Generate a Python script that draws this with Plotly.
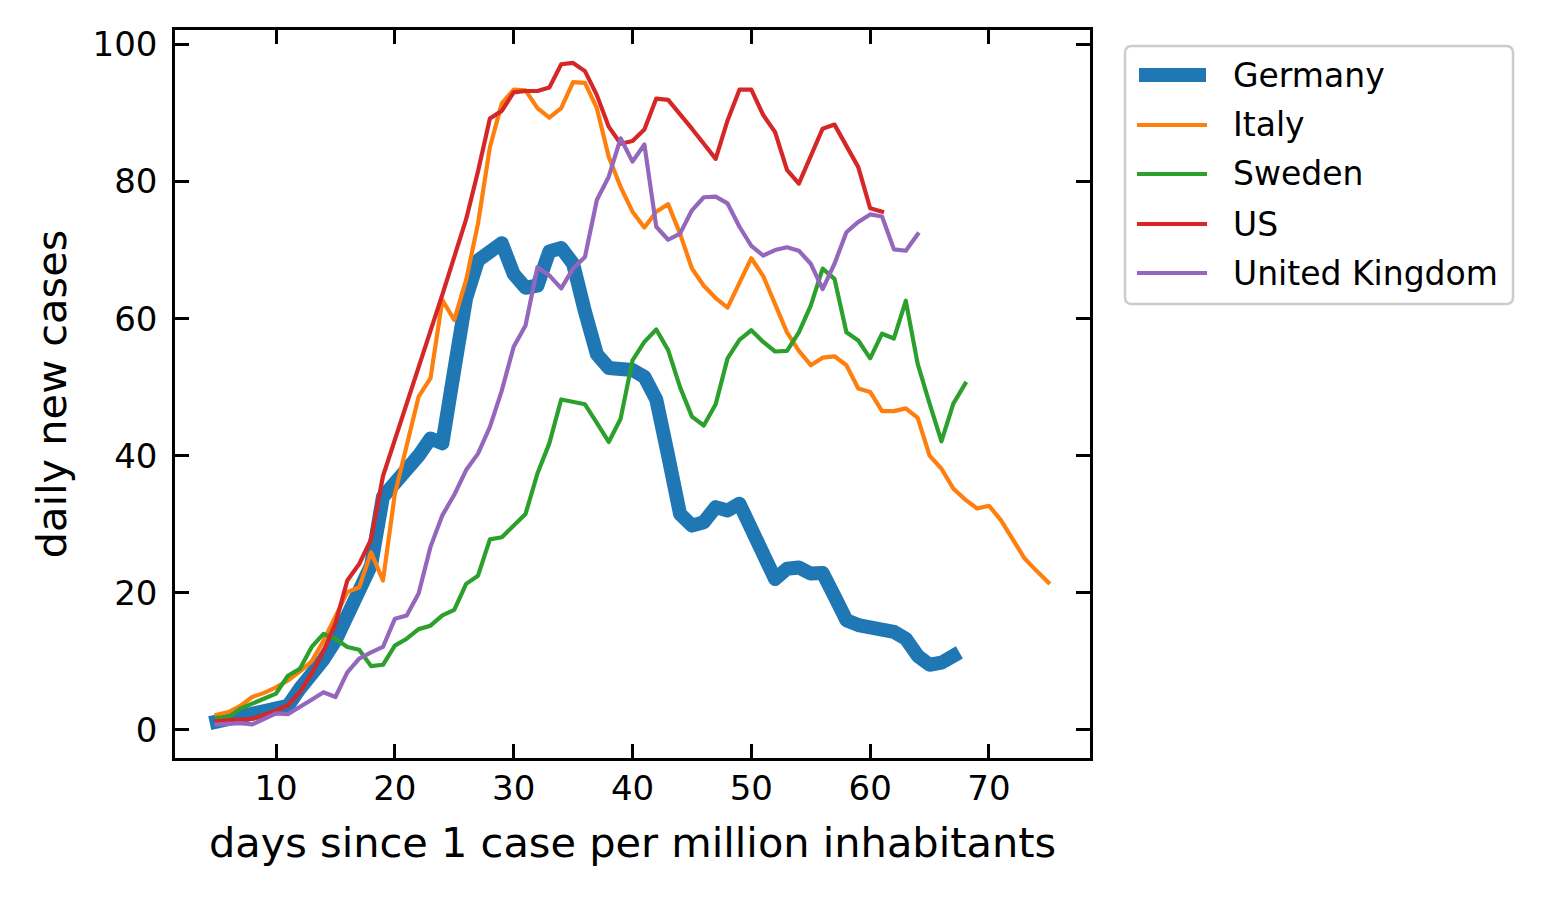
import plotly.graph_objects as go

# ---------------- data ----------------
countries = ["Germany", "Italy", "Sweden", "US", "United Kingdom"]
colors = ["#1f77b4", "#ff7f0e", "#2ca02c", "#d62728", "#9467bd"]

days_germany = list(range(5, 68))
germany = [1.2, 1.5, 1.8, 2.2, 2.5, 3.1, 3.5, 6.0, 8.0, 10.3,
           13.0, 16.5, 20.0, 24.0, 34.0, 36.0, 37.5, 40.0, 42.5, 41.8,
           52.5, 63.0, 68.5, 70.0, 71.0, 66.5, 64.5, 64.8, 69.8, 70.3,
           68.0, 61.0, 54.8, 52.8, 52.6, 52.5, 51.5, 48.2, 40.0, 31.5,
           29.8, 30.3, 32.5, 32.0, 33.0, 29.5, 25.3, 22.0, 23.5, 23.7,
           22.8, 22.9, 19.5, 16.0, 15.3, 15.1, 14.6, 14.3, 13.3, 10.8,
           9.5, 9.8, 10.8]

days_italy = list(range(5, 76))
italy = [2.2, 2.6, 3.5, 4.8, 5.4, 6.2, 7.2, 8.5, 10.0, 13.0,
         16.5, 20.1, 20.8, 25.9, 21.8, 34.4, 41.5, 48.6, 51.3, 62.7,
         59.8, 65.6, 73.9, 85.0, 91.4, 93.4, 93.3, 90.7, 89.3, 90.7,
         94.5, 94.4, 90.7, 83.6, 79.2, 75.6, 73.3, 75.6, 76.7, 72.4,
         67.3, 64.8, 63.0, 61.6, 65.2, 68.8, 66.2, 62.0, 58.0, 55.3,
         53.2, 54.3, 54.5, 53.2, 49.8, 49.3, 46.5, 46.5, 46.9, 45.5,
         40.0, 38.1, 35.2, 33.6, 32.3, 32.7, 30.6, 27.8, 25.0, 23.2,
         21.5]

days_sweden = list(range(5, 69))
sweden = [1.75, 1.85, 3.1, 3.8, 4.5, 5.3, 7.9, 8.9, 12.1, 14.0,
          13.3, 12.1, 11.7, 9.3, 9.5, 12.3, 13.3, 14.7, 15.2, 16.7,
          17.5, 21.3, 22.5, 27.8, 28.1, 29.8, 31.5, 37.4, 41.8, 48.2,
          47.8, 47.5, 44.8, 42.0, 45.4, 53.9, 56.6, 58.4, 55.4, 50.0,
          45.7, 44.4, 47.5, 54.2, 56.9, 58.3, 56.6, 55.2, 55.3, 58.0,
          61.9, 67.3, 65.8, 58.0, 56.8, 54.2, 57.8, 57.1, 62.6, 53.4,
          47.6, 42.1, 47.6, 50.5]

days_us = list(range(5, 62))
us = [1.3, 1.4, 1.5, 1.6, 2.2, 2.8, 3.6, 5.5, 8.2, 11.5,
      15.5, 21.8, 24.2, 27.8, 37.0, 42.2, 47.5, 52.8, 58.2, 63.5,
      68.8, 74.5, 81.5, 89.2, 90.3, 93.0, 93.2, 93.2, 93.7, 97.1,
      97.3, 96.1, 92.6, 88.0, 85.5, 85.9, 87.6, 92.1, 91.9, 89.9,
      87.7, 85.5, 83.3, 88.9, 93.4, 93.4, 89.7, 87.2, 81.7, 79.7,
      83.8, 87.7, 88.3, 85.3, 82.1, 76.1, 75.6]

days_uk = list(range(5, 65))
uk = [0.8, 0.9, 1.0, 0.8, 1.6, 2.4, 2.3, 3.3, 4.4, 5.5,
      4.8, 8.4, 10.4, 11.3, 12.1, 16.2, 16.7, 19.9, 26.7, 31.3,
      34.3, 37.9, 40.3, 44.2, 49.5, 55.9, 59.0, 67.5, 66.3, 64.4,
      67.3, 69.0, 77.3, 80.7, 86.3, 82.9, 85.4, 73.4, 71.5, 72.4,
      75.8, 77.7, 77.8, 76.8, 73.4, 70.6, 69.2, 70.0, 70.4, 69.9,
      68.0, 64.3, 68.0, 72.6, 74.1, 75.2, 74.9, 70.1, 69.9, 72.3]

x_ticks = [10, 20, 30, 40, 50, 60, 70]
y_ticks = [0, 20, 40, 60, 80, 100]
x_title = "days since 1 case per million inhabitants"
y_title = "daily new cases"

series_x = [days_germany, days_italy, days_sweden, days_us, days_uk]
series_y = [germany, italy, sweden, us, uk]
widths = [14, 4.2, 4.2, 4.2, 4.2]

# ---------------- layout geometry ----------------
# the page body has an 8px margin, so the figure is laid out 8px smaller
OFF = 8
W, H = 1543 - OFF, 897 - OFF
L, R, T, B = 175 - OFF, 1090 - OFF, 30 - OFF, 758 - OFF
FONT = "DejaVu Sans"

fig = go.Figure()
for name, xs, ys, c, w in zip(countries, series_x, series_y, colors, widths):
    fig.add_trace(go.Scatter(x=xs, y=ys, mode="lines", name=name,
                             line=dict(color=c, width=w), showlegend=False))

def px_x(p):
    return (p - OFF - L) / (R - L)

def px_y(p):
    return (B - (p - OFF)) / (B - T)

# manual legend (matplotlib style), positions given in screenshot pixels
lx0, lx1, ly0, ly1 = 1125, 1513, 46, 304
r = 7
rx, ry = r / (R - L), r / (B - T)
X0, X1, Y0, Y1 = px_x(lx0), px_x(lx1), px_y(ly0), px_y(ly1)
path = (f"M{X0+rx},{Y0} L{X1-rx},{Y0} Q{X1},{Y0} {X1},{Y0-ry} "
        f"L{X1},{Y1+ry} Q{X1},{Y1} {X1-rx},{Y1} L{X0+rx},{Y1} "
        f"Q{X0},{Y1} {X0},{Y1+ry} L{X0},{Y0-ry} Q{X0},{Y0} {X0+rx},{Y0} Z")
shapes = [dict(type="path", xref="paper", yref="paper", path=path,
               line=dict(color="#cccccc", width=2.5),
               fillcolor="rgba(255,255,255,0.8)", layer="above")]
annotations = []
row_y = [75, 125, 174, 224, 273]
for i, (name, c, w) in enumerate(zip(countries, colors, widths)):
    yy = px_y(row_y[i])
    x_start = 1137 if w < 10 else 1139
    x_end = 1207 if w < 10 else 1206
    shapes.append(dict(type="line", xref="paper", yref="paper",
                       x0=px_x(x_start), x1=px_x(x_end), y0=yy, y1=yy,
                       line=dict(color=c, width=w), layer="above"))
    annotations.append(dict(text=name, xref="paper", yref="paper",
                            x=px_x(1231), y=yy, xanchor="left", yanchor="middle",
                            showarrow=False, font=dict(family=FONT, size=33, color="black")))

axis_common = dict(showline=True, linecolor="black", linewidth=2.5, mirror="ticks",
                   ticks="inside", ticklen=14, tickwidth=2.5, tickcolor="black",
                   showgrid=False, zeroline=False,
                   tickfont=dict(family=FONT, size=34, color="black"))

fig.update_layout(
    width=W, height=H,
    margin=dict(l=L, r=W - R, t=T, b=H - B, pad=0),
    plot_bgcolor="white", paper_bgcolor="white",
    showlegend=False,
    xaxis=dict(range=[1.5, 78.5], tickvals=x_ticks, ticklabelstandoff=-2,
               title=dict(text=x_title, font=dict(family=FONT, size=41.5, color="black"), standoff=22),
               **axis_common),
    yaxis=dict(range=[-4.1, 102.1], tickvals=y_ticks, ticklabelstandoff=8,
               title=dict(text=y_title, font=dict(family=FONT, size=41.5, color="black"), standoff=14),
               **axis_common),
    shapes=shapes, annotations=annotations,
)

# matplotlib-like line ends (projecting caps, round joins) for the data lines
post = ("document.querySelectorAll('.scatterlayer .js-line').forEach(function(p){"
        "p.style.strokeLinecap='square';p.style.strokeLinejoin='round';});")
fig.write_html("out.html", post_script=post)
